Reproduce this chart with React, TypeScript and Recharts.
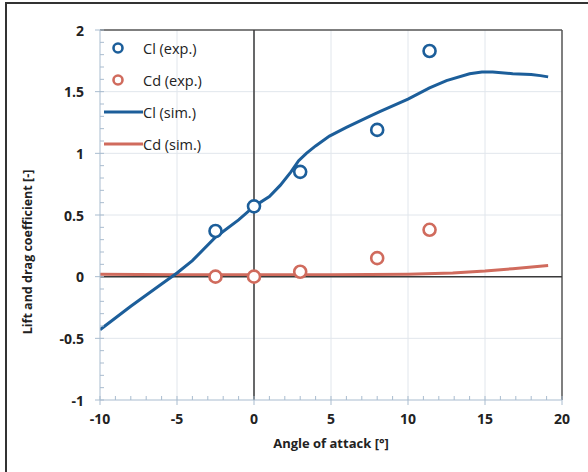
import React from "react";
import {
  ComposedChart,
  Label,
  Legend,
  Line,
  ReferenceLine,
  Scatter,
  XAxis,
  YAxis
} from "recharts";

// experimental points
const expAngle = [-2.5, 0, 3, 8, 11.4];
const clExp = [0.37, 0.57, 0.85, 1.19, 1.83];
const cdExp = [0.0, 0.0, 0.04, 0.15, 0.38];

// simulation curves
const clSimAngle = [
  -10, -8, -6, -5, -4, -2.5, -1, 0, 1, 1.7, 2.4, 2.9, 3.4, 4, 4.9, 6, 7.5, 8.2,
  10, 11.4, 12.5, 14, 14.8, 15.5, 16.8, 18, 18.6, 19.1
];
const clSim = [
  -0.43, -0.24, -0.06, 0.03, 0.13, 0.32, 0.46, 0.57, 0.65, 0.74, 0.85, 0.94,
  1.0, 1.06, 1.14, 1.21, 1.3, 1.34, 1.44, 1.53, 1.59, 1.645, 1.66, 1.66,
  1.645, 1.64, 1.63, 1.62
];
const cdSimAngle = [-10, -5, 0, 5, 10, 12.9, 15, 16.8, 19.1];
const cdSim = [0.02, 0.015, 0.015, 0.015, 0.02, 0.03, 0.045, 0.065, 0.09];

const xTicks = [-10, -5, 0, 5, 10, 15, 20];
const xMinorTicks = Array.from({ length: 31 }, (_, i) => i - 10);
const yTicks = [-1, -0.5, 0, 0.5, 1, 1.5, 2];
const yMinorTicks = Array.from({ length: 31 }, (_, i) => Math.round((i * 0.1 - 1) * 10) / 10);

const legendItems = [
  { name: "Cl (exp.)", kind: "circle", color: "#1c5e9a" },
  { name: "Cd (exp.)", kind: "circle", color: "#d06b5d" },
  { name: "Cl (sim.)", kind: "line", color: "#1c5e9a" },
  { name: "Cd (sim.)", kind: "line", color: "#d06b5d" }
];

const BLUE = "#1c5e9a";
const RED = "#d06b5d";
const AXIS_LIGHT = "#a9bccf";
const GRID = "#e1e6ec";
const DARK = "#3a3a3a";
const FONT = "'Open Sans', sans-serif";
const X_MARGIN = 13;
const Y_MARGIN = 16;

const clExpData = expAngle.map((a, i) => ({ a, v: clExp[i] }));
const cdExpData = expAngle.map((a, i) => ({ a, v: cdExp[i] }));
const clSimData = clSimAngle.map((a, i) => ({ a, v: clSim[i] }));
const cdSimData = cdSimAngle.map((a, i) => ({ a, v: cdSim[i] }));

const isMajor = (v: number, step: number) => Math.abs(v / step - Math.round(v / step)) < 1e-6;

const ring = (color: string) => (props: any) => (
  <circle cx={props.cx} cy={props.cy} r={6} fill="#fff" stroke={color} strokeWidth={2.6} />
);

function XTick(props: any) {
  const { x, y, payload } = props;
  const v = payload.value;
  const ay = y - X_MARGIN;
  const major = isMajor(v, 5);
  return (
    <g>
      <line x1={x} x2={x} y1={ay - 4} y2={major ? ay + 5 : ay} stroke={AXIS_LIGHT} />
      {major && (
        <text
          x={x}
          y={ay + 18}
          textAnchor="middle"
          dominantBaseline="central"
          style={{ fill: "#222", fontFamily: FONT, fontSize: 14, fontWeight: 700 }}
        >
          {v}
        </text>
      )}
    </g>
  );
}

function YTick(props: any) {
  const { x, y, payload } = props;
  const v = payload.value;
  const ax = x + Y_MARGIN;
  const major = isMajor(v, 0.5);
  return (
    <g>
      <line x1={major ? ax - 5 : ax} x2={ax + 4} y1={y} y2={y} stroke={AXIS_LIGHT} />
      {major && (
        <text
          x={ax - 16}
          y={y}
          textAnchor="end"
          dominantBaseline="central"
          style={{ fill: "#222", fontFamily: FONT, fontSize: 14, fontWeight: 700 }}
        >
          {v}
        </text>
      )}
    </g>
  );
}

function LegendBox() {
  return (
    <div style={{ fontFamily: FONT, fontSize: 14.5, color: "#222" }}>
      {legendItems.map((it) => (
        <div key={it.name} style={{ display: "flex", alignItems: "center", height: 32 }}>
          <svg width={43} height={16} style={{ display: "block" }}>
            {it.kind === "circle" ? (
              <circle cx={18} cy={8} r={4.5} fill="#fff" stroke={it.color} strokeWidth={2.6} />
            ) : (
              <line x1={4} y1={8} x2={43} y2={8} stroke={it.color} strokeWidth={3} />
            )}
          </svg>
          <span>{it.name}</span>
        </div>
      ))}
    </div>
  );
}

export default function App() {
  return (
    <div style={{ position: "absolute", left: 0, top: 0, width: 588, height: 472, background: "#fff" }}>
      <div
        style={{
          position: "absolute",
          left: 5,
          top: 2,
          width: 600,
          height: 480,
          borderLeft: "2px solid #333",
          borderTop: "2px solid #333"
        }}
      />
      <ComposedChart
        width={588}
        height={472}
        margin={{ top: 30, right: 26, bottom: 0, left: 40 }}
        style={{ position: "absolute", left: 0, top: 0 }}
      >
        <XAxis
          type="number"
          dataKey="a"
          domain={[-10, 20]}
          ticks={xMinorTicks}
          interval={0}
          height={72}
          tickSize={0}
          tickMargin={X_MARGIN}
          axisLine={{ stroke: AXIS_LIGHT }}
          tickLine={false}
          tick={<XTick />}
          allowDataOverflow
        >
          <Label
            value="Angle of attack [°]"
            position="insideBottom"
            offset={24}
            style={{ fill: "#222", fontFamily: FONT, fontSize: 13, fontWeight: 700 }}
          />
        </XAxis>
        <YAxis
          type="number"
          domain={[-1, 2]}
          ticks={yMinorTicks}
          interval={0}
          width={60}
          tickSize={0}
          tickMargin={Y_MARGIN}
          axisLine={{ stroke: AXIS_LIGHT }}
          tickLine={false}
          tick={<YTick />}
          allowDataOverflow
        >
          <Label
            content={(p: any) => {
              const vb = p.viewBox;
              const x = vb.x - 13;
              const y = vb.y + vb.height / 2 + 37;
              return (
                <text
                  x={x}
                  y={y}
                  transform={`rotate(-90, ${x}, ${y})`}
                  textAnchor="middle"
                  dominantBaseline="central"
                  style={{ fill: "#222", fontFamily: FONT, fontSize: 12.5, fontWeight: 700 }}
                >
                  Lift and drag coefficient [-]
                </text>
              );
            }}
          />
        </YAxis>
        {xTicks.slice(1, -1).map((v) => (
          <ReferenceLine key={`gx${v}`} x={v} stroke={GRID} strokeWidth={1} />
        ))}
        {yTicks.slice(1, -1).map((v) => (
          <ReferenceLine key={`gy${v}`} y={v} stroke={GRID} strokeWidth={1} />
        ))}
        <ReferenceLine y={2} stroke="#555" strokeWidth={1.5} />
        <ReferenceLine x={20} stroke="#555" strokeWidth={1.5} />
        <Line
          data={cdSimData}
          dataKey="v"
          type="linear"
          stroke={RED}
          strokeWidth={3}
          dot={false}
          activeDot={false}
          isAnimationActive={false}
        />
        <ReferenceLine y={0} stroke={DARK} strokeWidth={1.5} />
        <ReferenceLine x={0} stroke={DARK} strokeWidth={1.5} />
        <Line
          data={clSimData}
          dataKey="v"
          type="linear"
          stroke={BLUE}
          strokeWidth={3}
          dot={false}
          activeDot={false}
          isAnimationActive={false}
        />
        <Scatter data={cdExpData} dataKey="v" shape={ring(RED)} isAnimationActive={false} />
        <Scatter data={clExpData} dataKey="v" shape={ring(BLUE)} isAnimationActive={false} />
        <Legend
          layout="vertical"
          align="center"
          verticalAlign="middle"
          content={() => <LegendBox />}
          wrapperStyle={{ left: 100, top: 32, width: 150, height: 130 }}
        />
      </ComposedChart>
    </div>
  );
}
